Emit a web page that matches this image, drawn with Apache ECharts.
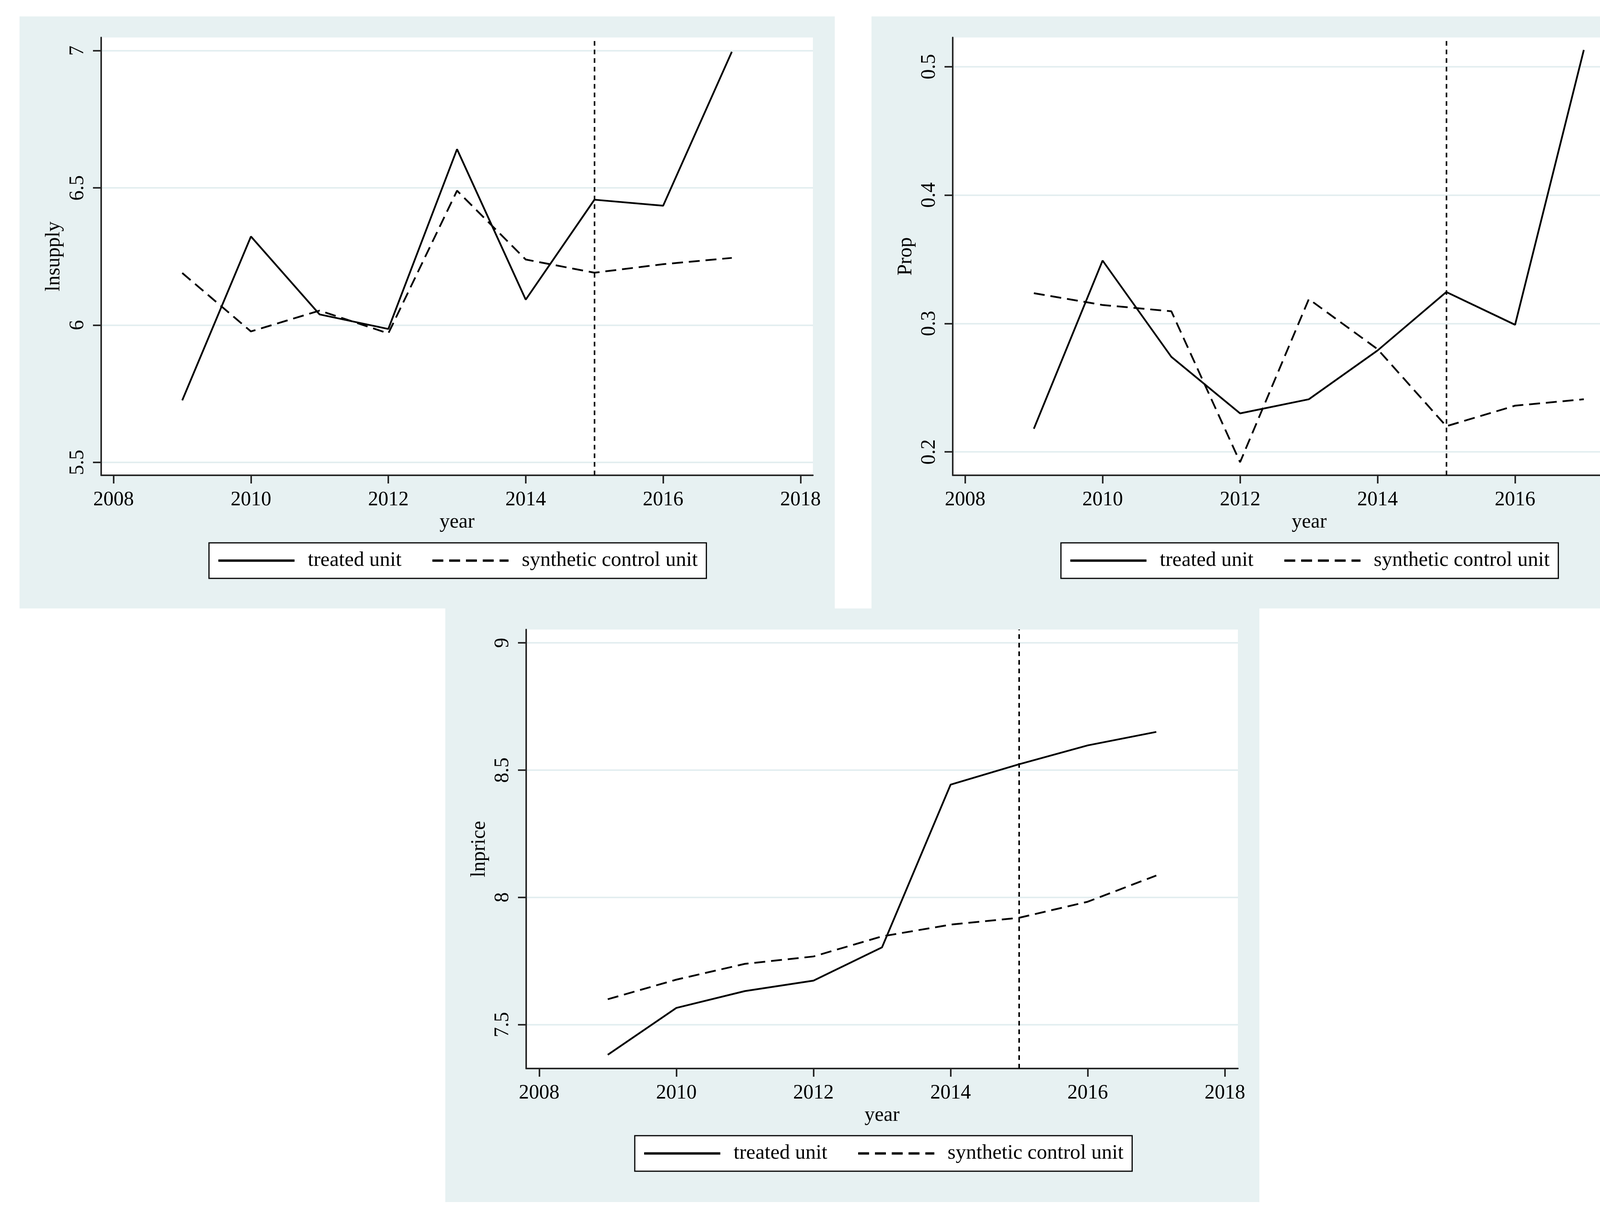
<!DOCTYPE html>
<html>
<head>
<meta charset="utf-8">
<script src="https://cdn.jsdelivr.net/npm/echarts@6/dist/echarts.min.js"></script>
<style>
html,body{margin:0;padding:0;background:#ffffff;width:4363px;height:3106px;overflow:hidden}
.panel{position:absolute}
</style>
</head>
<body>
<div id="p1" class="panel" style="left:50px;top:42px;width:2087px;height:1516px"></div>
<div id="p2" class="panel" style="left:2231px;top:42px;width:2084px;height:1516px"></div>
<div id="p3" class="panel" style="left:1140px;top:1558px;width:2084px;height:1520px"></div>
<script>
// ---- data ----
const years = [2009, 2010, 2011, 2012, 2013, 2014, 2015, 2016, 2017];
const xTicks = [2008, 2010, 2012, 2014, 2016, 2018];
const seriesNames = ['treated unit', 'synthetic control unit'];
const interventionYear = 2015;

const lnsupplyTreated   = [5.726, 6.323, 6.039, 5.986, 6.641, 6.093, 6.457, 6.435, 6.996];
const lnsupplySynthetic = [6.190, 5.977, 6.053, 5.970, 6.490, 6.239, 6.191, 6.222, 6.245];
const lnsupplyTicks = [5.5, 6, 6.5, 7];

const propTreated   = [0.218, 0.349, 0.274, 0.230, 0.241, 0.279, 0.3245, 0.299, 0.513];
const propSynthetic = [0.3236, 0.3144, 0.3095, 0.192, 0.319, 0.280, 0.220, 0.236, 0.241];
const propTicks = [0.2, 0.3, 0.4, 0.5];

const lnpriceTreated   = [7.382, 7.566, 7.632, 7.673, 7.804, 8.443, 8.523, 8.597, 8.650];
const lnpriceSynthetic = [7.600, 7.677, 7.739, 7.768, 7.847, 7.893, 7.920, 7.983, 8.086];
const lnpriceTicks = [7.5, 8, 8.5, 9];

// ---- styling ----
const FONT = "'Liberation Serif','Times New Roman',serif";
const PANEL_BG = '#e7f1f2';
const GRID_LINE = '#e3eef0';
const AXIS_COLOR = '#262626';

function buildOption(cfg) {
  const pairs = arr => years.map((y, i) => [y, arr[i]]);
  return {
    animation: false,
    backgroundColor: PANEL_BG,
    textStyle: { fontFamily: FONT, color: '#000' },
    grid: {
      left: cfg.grid[0], top: cfg.grid[1], width: cfg.grid[2], height: cfg.grid[3],
      show: true, backgroundColor: '#ffffff', borderWidth: 0,
      containLabel: false, outerBoundsMode: 'none'
    },
    legend: {
      data: seriesNames,
      left: 485, top: cfg.legendTop,
      orient: 'horizontal',
      backgroundColor: '#ffffff',
      borderColor: '#000000', borderWidth: 3, borderRadius: 0,
      padding: [19, 22, 19, 21],
      itemGap: 76, itemWidth: 195, itemHeight: 20,
      selectedMode: false,
      itemStyle: { opacity: 0, borderWidth: 0 },
      lineStyle: { width: 6, opacity: 1 },
      textStyle: { fontFamily: FONT, fontSize: 53, color: '#000', padding: [0, 0, 0, 29] }
    },
    xAxis: {
      type: 'value', min: cfg.xRange[0], max: cfg.xRange[1],
      name: 'year', nameLocation: 'middle', nameGap: 88,
      nameTextStyle: { fontFamily: FONT, fontSize: 52, color: '#000' },
      axisLine: { show: true, onZero: false, lineStyle: { color: AXIS_COLOR, width: 4 } },
      axisTick: { show: true, customValues: xTicks, length: 21, lineStyle: { color: AXIS_COLOR, width: 4 } },
      axisLabel: { customValues: xTicks, margin: 37, fontFamily: FONT, fontSize: 52, color: '#000',
                   formatter: v => String(Math.round(v)) },
      splitLine: { show: false }
    },
    yAxis: {
      type: 'value', min: cfg.yRange[0], max: cfg.yRange[1],
      name: cfg.yName, nameLocation: 'middle', nameGap: cfg.nameGap,
      nameTextStyle: { fontFamily: FONT, fontSize: 52, color: '#000' },
      axisLine: { show: true, onZero: false, lineStyle: { color: AXIS_COLOR, width: 4 } },
      axisTick: { show: true, customValues: cfg.yTicks, length: 21, lineStyle: { color: AXIS_COLOR, width: 4 } },
      axisLabel: { customValues: cfg.yTicks, rotate: 90, margin: 34, fontFamily: FONT, fontSize: 52, color: '#000',
                   formatter: v => String(v) },
      splitLine: { show: true, lineStyle: { color: GRID_LINE, width: 4 } }
    },
    series: [
      {
        name: seriesNames[0], type: 'line', data: pairs(cfg.treated),
        symbol: 'none', color: '#000', z: 3,
        lineStyle: { color: '#000', width: 4.5, type: 'solid' },
        emphasis: { disabled: true },
        markLine: {
          silent: true, symbol: ['none', 'none'], animation: false,
          label: { show: false },
          lineStyle: { color: '#000', width: 4, type: [12, 10] },
          emphasis: { disabled: true },
          data: [{ xAxis: interventionYear }]
        }
      },
      {
        name: seriesNames[1], type: 'line', data: pairs(cfg.synthetic),
        symbol: 'none', color: '#000', z: 2,
        lineStyle: { color: '#000', width: 4.5, type: [28, 15] },
        emphasis: { disabled: true }
      }
    ]
  };
}

const panels = [
  { id: 'p1', grid: [209, 54, 1822, 1121], legendTop: 1348, xRange: [2007.82, 2018.18],
    yRange: [5.453, 7.048], yTicks: lnsupplyTicks, yName: 'lnsupply', nameGap: 95,
    treated: lnsupplyTreated, synthetic: lnsupplySynthetic },
  { id: 'p2', grid: [208, 54, 1825, 1121], legendTop: 1348, xRange: [2007.82, 2018.19],
    yRange: [0.1818, 0.5227], yTicks: propTicks, yName: 'Prop', nameGap: 82,
    treated: propTreated, synthetic: propSynthetic },
  { id: 'p3', grid: [207, 54, 1822, 1124], legendTop: 1350, xRange: [2007.81, 2018.19],
    yRange: [7.328, 9.052], yTicks: lnpriceTicks, yName: 'lnprice', nameGap: 91,
    treated: lnpriceTreated, synthetic: lnpriceSynthetic }
];

panels.forEach(p => {
  const chart = echarts.init(document.getElementById(p.id), null, { renderer: 'canvas' });
  chart.setOption(buildOption(p));
});
</script>
</body>
</html>
